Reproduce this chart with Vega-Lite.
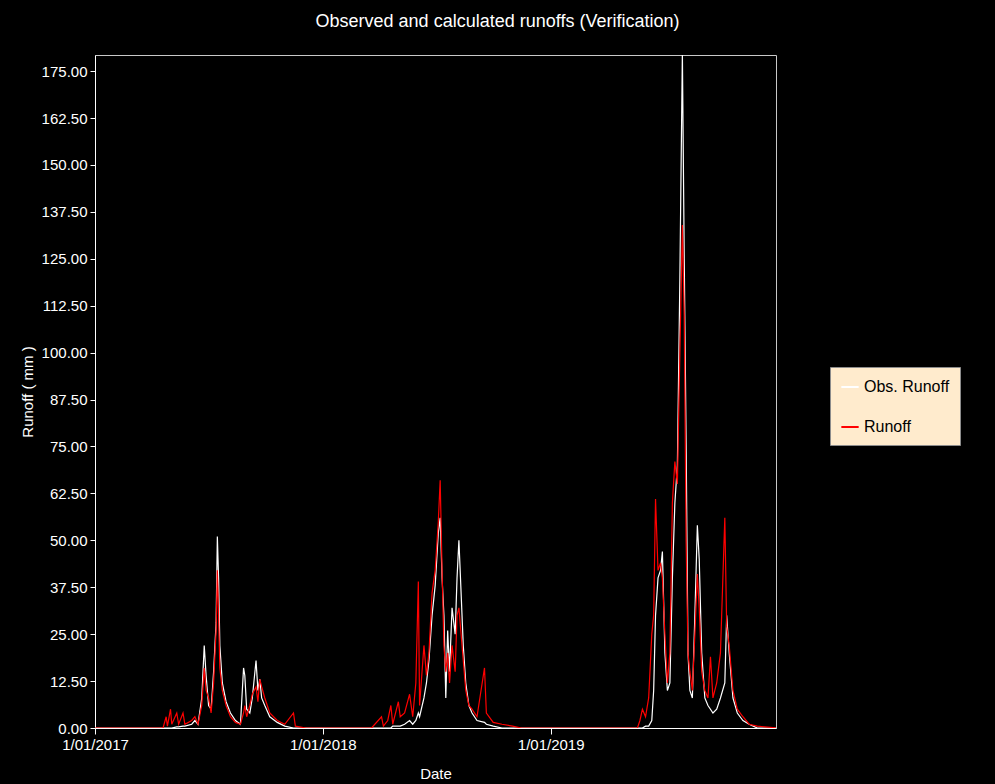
{
  "$schema": "https://vega.github.io/schema/vega-lite/v6.json",
  "background": "#000000",
  "autosize": "none",
  "padding": {"left": 95, "top": 55, "right": 219, "bottom": 56},
  "width": 681,
  "height": 673,
  "view": {"stroke": "#c8c8c8", "strokeWidth": 1},
  "title": {"text": "Observed and calculated runoffs (Verification)", "color": "#ffffff", "font": "Liberation Sans", "fontSize": 18, "fontWeight": "normal", "dx": 62, "offset": 24},
  "data": {"values": [
    {"date": "2017-01-01", "obs": 0, "sim": 0},
    {"date": "2017-04-20", "obs": 0, "sim": 0},
    {"date": "2017-04-25", "obs": 0, "sim": 3},
    {"date": "2017-04-27", "obs": 0, "sim": 0.5},
    {"date": "2017-05-02", "obs": 0, "sim": 5},
    {"date": "2017-05-04", "obs": 0, "sim": 1},
    {"date": "2017-05-12", "obs": 0.3, "sim": 4},
    {"date": "2017-05-15", "obs": 0.3, "sim": 1},
    {"date": "2017-05-22", "obs": 0.5, "sim": 4},
    {"date": "2017-05-25", "obs": 0.5, "sim": 1},
    {"date": "2017-06-05", "obs": 1, "sim": 2},
    {"date": "2017-06-10", "obs": 2, "sim": 3},
    {"date": "2017-06-15", "obs": 1, "sim": 1},
    {"date": "2017-06-21", "obs": 8, "sim": 6},
    {"date": "2017-06-25", "obs": 22, "sim": 16},
    {"date": "2017-06-28", "obs": 14, "sim": 10},
    {"date": "2017-07-02", "obs": 6, "sim": 8},
    {"date": "2017-07-06", "obs": 5, "sim": 4},
    {"date": "2017-07-10", "obs": 15, "sim": 12},
    {"date": "2017-07-14", "obs": 28, "sim": 26},
    {"date": "2017-07-16", "obs": 51, "sim": 42},
    {"date": "2017-07-18", "obs": 40, "sim": 30},
    {"date": "2017-07-20", "obs": 22, "sim": 16},
    {"date": "2017-07-24", "obs": 12, "sim": 10},
    {"date": "2017-07-30", "obs": 7, "sim": 6},
    {"date": "2017-08-06", "obs": 4, "sim": 3},
    {"date": "2017-08-14", "obs": 2, "sim": 1.5},
    {"date": "2017-08-22", "obs": 1, "sim": 1},
    {"date": "2017-08-27", "obs": 16, "sim": 4},
    {"date": "2017-08-29", "obs": 14, "sim": 6},
    {"date": "2017-09-01", "obs": 5, "sim": 3},
    {"date": "2017-09-06", "obs": 4, "sim": 6},
    {"date": "2017-09-10", "obs": 8, "sim": 9},
    {"date": "2017-09-16", "obs": 18, "sim": 11},
    {"date": "2017-09-19", "obs": 10, "sim": 7},
    {"date": "2017-09-22", "obs": 13, "sim": 13},
    {"date": "2017-09-25", "obs": 8, "sim": 11},
    {"date": "2017-09-30", "obs": 6, "sim": 8},
    {"date": "2017-10-08", "obs": 3, "sim": 4},
    {"date": "2017-10-20", "obs": 1.5, "sim": 2},
    {"date": "2017-11-01", "obs": 0.5, "sim": 1},
    {"date": "2017-11-15", "obs": 0, "sim": 4},
    {"date": "2017-11-18", "obs": 0, "sim": 0.5},
    {"date": "2017-12-05", "obs": 0, "sim": 0},
    {"date": "2018-03-20", "obs": 0, "sim": 0},
    {"date": "2018-04-05", "obs": 0, "sim": 3},
    {"date": "2018-04-08", "obs": 0, "sim": 0.5},
    {"date": "2018-04-15", "obs": 0, "sim": 2},
    {"date": "2018-04-20", "obs": 0, "sim": 6},
    {"date": "2018-04-23", "obs": 0.5, "sim": 1},
    {"date": "2018-05-02", "obs": 0.5, "sim": 7},
    {"date": "2018-05-05", "obs": 0.5, "sim": 3},
    {"date": "2018-05-12", "obs": 1, "sim": 4},
    {"date": "2018-05-20", "obs": 2, "sim": 9},
    {"date": "2018-05-25", "obs": 1, "sim": 3},
    {"date": "2018-05-30", "obs": 2, "sim": 12},
    {"date": "2018-06-03", "obs": 4, "sim": 39},
    {"date": "2018-06-05", "obs": 3, "sim": 6},
    {"date": "2018-06-12", "obs": 8, "sim": 22},
    {"date": "2018-06-16", "obs": 12, "sim": 14},
    {"date": "2018-06-20", "obs": 18, "sim": 20},
    {"date": "2018-06-25", "obs": 30, "sim": 36},
    {"date": "2018-06-30", "obs": 38, "sim": 42},
    {"date": "2018-07-05", "obs": 52, "sim": 55},
    {"date": "2018-07-08", "obs": 56, "sim": 66},
    {"date": "2018-07-11", "obs": 40, "sim": 42},
    {"date": "2018-07-14", "obs": 30, "sim": 22},
    {"date": "2018-07-17", "obs": 8, "sim": 15},
    {"date": "2018-07-20", "obs": 26, "sim": 20},
    {"date": "2018-07-23", "obs": 15, "sim": 12},
    {"date": "2018-07-27", "obs": 32, "sim": 22},
    {"date": "2018-08-01", "obs": 25, "sim": 15},
    {"date": "2018-08-04", "obs": 40, "sim": 30},
    {"date": "2018-08-07", "obs": 50, "sim": 32},
    {"date": "2018-08-10", "obs": 38, "sim": 26},
    {"date": "2018-08-14", "obs": 22, "sim": 18},
    {"date": "2018-08-18", "obs": 12, "sim": 10},
    {"date": "2018-08-23", "obs": 6, "sim": 6},
    {"date": "2018-08-28", "obs": 4, "sim": 5},
    {"date": "2018-09-05", "obs": 2, "sim": 3},
    {"date": "2018-09-17", "obs": 1.5, "sim": 16},
    {"date": "2018-09-20", "obs": 1, "sim": 4},
    {"date": "2018-10-01", "obs": 0.5, "sim": 1.5},
    {"date": "2018-10-15", "obs": 0, "sim": 1},
    {"date": "2018-11-01", "obs": 0, "sim": 0.5},
    {"date": "2018-11-15", "obs": 0, "sim": 0},
    {"date": "2019-05-20", "obs": 0, "sim": 0},
    {"date": "2019-05-24", "obs": 0, "sim": 2},
    {"date": "2019-05-28", "obs": 0, "sim": 5},
    {"date": "2019-06-02", "obs": 0.5, "sim": 3},
    {"date": "2019-06-07", "obs": 0.5, "sim": 8},
    {"date": "2019-06-12", "obs": 2, "sim": 25},
    {"date": "2019-06-15", "obs": 10, "sim": 30},
    {"date": "2019-06-18", "obs": 30, "sim": 61},
    {"date": "2019-06-22", "obs": 40, "sim": 42},
    {"date": "2019-06-26", "obs": 42, "sim": 44},
    {"date": "2019-06-29", "obs": 47, "sim": 40},
    {"date": "2019-07-03", "obs": 20, "sim": 25},
    {"date": "2019-07-07", "obs": 10, "sim": 12},
    {"date": "2019-07-11", "obs": 12, "sim": 20},
    {"date": "2019-07-15", "obs": 40, "sim": 60},
    {"date": "2019-07-19", "obs": 60, "sim": 71},
    {"date": "2019-07-23", "obs": 70, "sim": 65},
    {"date": "2019-07-27", "obs": 120, "sim": 100},
    {"date": "2019-07-31", "obs": 180, "sim": 134},
    {"date": "2019-08-03", "obs": 125, "sim": 110},
    {"date": "2019-08-06", "obs": 76, "sim": 50},
    {"date": "2019-08-09", "obs": 20, "sim": 20},
    {"date": "2019-08-12", "obs": 10, "sim": 15},
    {"date": "2019-08-16", "obs": 8, "sim": 10},
    {"date": "2019-08-20", "obs": 30, "sim": 25},
    {"date": "2019-08-24", "obs": 54, "sim": 41},
    {"date": "2019-08-27", "obs": 45, "sim": 32},
    {"date": "2019-08-31", "obs": 20, "sim": 15},
    {"date": "2019-09-05", "obs": 8, "sim": 10},
    {"date": "2019-09-10", "obs": 6, "sim": 8},
    {"date": "2019-09-14", "obs": 5, "sim": 19},
    {"date": "2019-09-18", "obs": 4, "sim": 8},
    {"date": "2019-09-24", "obs": 5, "sim": 12},
    {"date": "2019-09-30", "obs": 8, "sim": 20},
    {"date": "2019-10-07", "obs": 12, "sim": 56},
    {"date": "2019-10-10", "obs": 30, "sim": 27},
    {"date": "2019-10-14", "obs": 20, "sim": 22},
    {"date": "2019-10-20", "obs": 8, "sim": 10},
    {"date": "2019-10-27", "obs": 4, "sim": 5},
    {"date": "2019-11-05", "obs": 2, "sim": 3},
    {"date": "2019-11-15", "obs": 1, "sim": 1},
    {"date": "2019-11-28", "obs": 0, "sim": 0.5},
    {"date": "2019-12-31", "obs": 0, "sim": 0}
  ]},
  "transform": [
    {"fold": ["obs", "sim"], "as": ["key", "value"]},
    {"calculate": "datum.key === 'obs' ? 'Obs. Runoff' : 'Runoff'", "as": "series"}
  ],
  "mark": {"type": "line", "strokeWidth": 1.2, "clip": true, "interpolate": "linear"},
  "encoding": {
    "x": {
      "field": "date", "type": "temporal",
      "scale": {"domain": ["2017-01-01", "2019-12-28"]},
      "axis": {
        "title": "Date", "titleColor": "#ffffff", "titleFont": "Liberation Sans", "titleFontSize": 15, "titleFontWeight": "normal", "titlePadding": 14,
        "values": ["2017-01-01", "2018-01-01", "2019-01-01"],
        "format": "%-d/%m/%Y",
        "labelColor": "#ffffff", "labelFont": "Liberation Sans", "labelFontSize": 15, "labelPadding": 3,
        "labelAlign": "center", "labelFlush": false,
        "domainColor": "#ffffff", "tickColor": "#ffffff", "tickSize": 6, "grid": false
      }
    },
    "y": {
      "field": "value", "type": "quantitative",
      "scale": {"domain": [0, 179.3], "nice": false},
      "axis": {
        "title": "Runoff ( mm )", "titleColor": "#ffffff", "titleFont": "Liberation Sans", "titleFontSize": 15, "titleFontWeight": "normal", "titlePadding": 6,
        "values": [0, 12.5, 25, 37.5, 50, 62.5, 75, 87.5, 100, 112.5, 125, 137.5, 150, 162.5, 175],
        "format": ".2f",
        "labelColor": "#ffffff", "labelFont": "Liberation Sans", "labelFontSize": 15, "labelPadding": 3,
        "domainColor": "#ffffff", "tickColor": "#ffffff", "tickSize": 5, "grid": false
      }
    },
    "color": {
      "field": "series", "type": "nominal",
      "scale": {"domain": ["Obs. Runoff", "Runoff"], "range": ["#ffffff", "#ff0000"]},
      "legend": {
        "title": null, "orient": "none", "legendX": 735, "legendY": 312,
        "fillColor": "#ffebcd", "strokeColor": "#8c8c8c", "padding": 10,
        "symbolType": "stroke", "symbolSize": 300, "symbolStrokeWidth": 2,
        "labelColor": "#000000", "labelFont": "Liberation Sans", "labelFontSize": 16, "labelLimit": 200,
        "rowPadding": 22, "columnPadding": 0
      }
    },
    "order": {"field": "key", "sort": "ascending"}
  }
}
